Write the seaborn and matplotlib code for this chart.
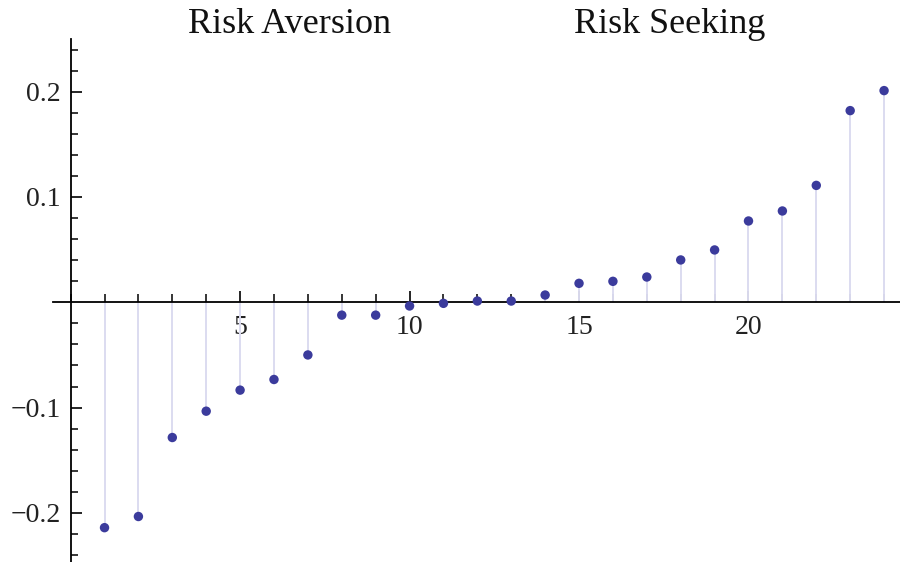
import matplotlib
matplotlib.use("Agg")
import matplotlib.pyplot as plt
import seaborn as sns
import numpy as np
import pandas as pd
from matplotlib.ticker import MultipleLocator, FixedLocator

# data
index = list(range(1, 25))
values = [-0.214, -0.2034, -0.1284, -0.1034, -0.0834, -0.0733, -0.050, -0.0122,
          -0.0122, -0.0035, -0.001, 0.0012, 0.0012, 0.0069, 0.018, 0.0199,
          0.024, 0.0402, 0.0497, 0.0772, 0.0867, 0.111, 0.182, 0.201]
x_major = [5, 10, 15, 20]
y_major = [-0.2, -0.1, 0.1, 0.2]
y_labels = ["\u22120.2", "\u22120.1", "0.1", "0.2"]
titles = ["Risk Aversion", "Risk Seeking"]

df = pd.DataFrame({"x": index, "y": values})

sns.set_theme(style="white")
plt.rcParams["font.family"] = ["Liberation Serif", "DejaVu Serif"]

fig = plt.figure(figsize=(9, 5.62), dpi=100)
ax = fig.add_axes([53 / 900, 0.0, 1 - 53 / 900, 1 - 39 / 562])

point_color = "#3b3b9c"
stem_color = "#dcdcf0"

ax.vlines(df["x"], 0, df["y"], color=stem_color, linewidth=1.4, zorder=1)
sns.scatterplot(data=df, x="x", y="y", ax=ax, color=point_color, s=46,
                edgecolor="none", zorder=3, legend=False)

ax.set_xlim(-0.52, 24.47)
ax.set_ylim(-0.2466, 0.25)

for s in ["top", "right"]:
    ax.spines[s].set_visible(False)
ax.spines["left"].set_position(("data", 0))
ax.spines["bottom"].set_position(("data", 0))
for s in ["left", "bottom"]:
    ax.spines[s].set_color("black")
    ax.spines[s].set_linewidth(1.3)
    ax.spines[s].set_zorder(2)

ax.xaxis.set_major_locator(FixedLocator(x_major))
ax.xaxis.set_minor_locator(MultipleLocator(1))
ax.set_xticklabels([str(v) for v in x_major])
ax.yaxis.set_major_locator(FixedLocator(y_major))
ax.set_yticklabels(y_labels)
ax.yaxis.set_minor_locator(FixedLocator([v / 100 for v in range(-24, 25, 2) if v != 0]))

ax.tick_params(axis="both", which="both", direction="in", color="black",
               bottom=True, left=True, labelsize=20, labelcolor="#222222")
ax.tick_params(axis="x", which="major", length=8, width=1.2, pad=9)
ax.tick_params(axis="x", which="minor", length=6, width=1.1)
ax.tick_params(axis="y", which="major", length=8, width=1.2, pad=7)
ax.tick_params(axis="y", which="minor", length=5, width=1.1)
ax.set_xlabel("")
ax.set_ylabel("")
ax.grid(False)

fig.text(289 / 900, 1 - 33 / 562, titles[0], ha="center", va="baseline",
         fontsize=26, color="#111111")
fig.text(670 / 900, 1 - 33 / 562, titles[1], ha="center", va="baseline",
         fontsize=26, color="#111111")

fig.savefig("out.png", dpi=100)
